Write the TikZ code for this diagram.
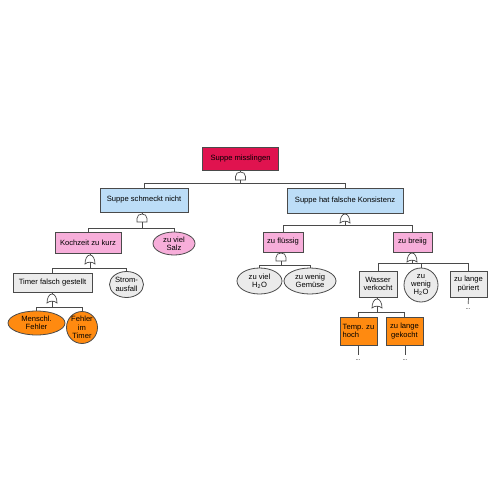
\documentclass[tikz,border=0pt]{standalone}
\usepackage{fontspec}
\setmainfont{Liberation Sans}
\usetikzlibrary{shapes.geometric}
\definecolor{topred}{HTML}{E0134F}
\definecolor{midblue}{HTML}{BCDDF7}
\definecolor{lowpink}{HTML}{F7AEDA}
\definecolor{basegray}{HTML}{EBEBEB}
\definecolor{leaforange}{HTML}{FF8A10}
\definecolor{edge}{HTML}{4A4A4A}

\begin{document}
\begin{tikzpicture}[x=1pt,y=-1pt,
  box/.style={draw=edge,line width=0.8pt,align=center,inner sep=0.5pt,font=\fontsize{7.6}{8.4}\selectfont},
  ev/.style={box,ellipse,inner sep=0pt},
  link/.style={draw=edge,line width=0.7pt},
  dots/.style={font=\fontsize{6}{6}\selectfont,inner sep=0.5pt},
  andgate/.pic={\draw[edge,line width=0.7pt,fill=white] (-5,8) -- (-5,4.5) .. controls (-5,1.5) and (-2.8,0) .. (0,0) .. controls (2.8,0) and (5,1.5) .. (5,4.5) -- (5,8) -- cycle;
    \coordinate (-in) at (0,0); \coordinate (-out) at (0,8);},
  orgate/.pic={\draw[edge,line width=0.7pt,fill=white] (-5,9) .. controls (-5,4) and (-3,0) .. (0,0) .. controls (3,0) and (5,4) .. (5,9) .. controls (2,6.5) and (-2,6.5) .. cycle;
    \coordinate (-in) at (0,0); \coordinate (-out) at (0,7.2);}]
\useasboundingbox[fill=white] (0,0) rectangle (500,500);

% top event
\node[box,fill=topred,minimum width=76pt,minimum height=23pt] (top) at (240.5,158.5) {Suppe misslingen};
% second level
\node[box,fill=midblue,minimum width=88pt,minimum height=24pt] (schmeckt) at (144,200) {Suppe schmeckt nicht};
\node[box,fill=midblue,minimum width=116pt,minimum height=25pt] (konsistenz) at (345,200.5) {Suppe hat falsche Konsistenz};
% left branch
\node[box,fill=lowpink,minimum width=66pt,minimum height=21pt] (kochzeit) at (88,242.5) {Kochzeit zu kurz};
\node[ev,fill=lowpink,minimum width=42pt,minimum height=23pt] (salz) at (174,243.5) {zu viel\\Salz};
\node[box,fill=basegray,minimum width=79pt,minimum height=19pt] (timer) at (52.5,282.5) {Timer falsch gestellt};
\node[ev,fill=basegray,minimum width=34pt,minimum height=26pt] (strom) at (126.5,284.5) {Strom-\\ausfall};
\node[ev,fill=leaforange,minimum width=57pt,minimum height=24pt] (mensch) at (36.5,323) {Menschl.\\Fehler};
\node[ev,fill=leaforange,minimum width=31pt,minimum height=32pt] (imtimer) at (82,327.5) {Fehler\\im\\Timer};
% right branch
\node[box,fill=lowpink,minimum width=40pt,minimum height=20pt] (fluessig) at (283,242) {zu flüssig};
\node[box,fill=lowpink,minimum width=39pt,minimum height=20pt] (breiig) at (412.5,242) {zu breiig};
\node[ev,fill=basegray,minimum width=45pt,minimum height=26pt] (vielwasser) at (259.5,281) {zu viel\\H\textsubscript{2}O};
\node[ev,fill=basegray,minimum width=52pt,minimum height=26pt] (gemuese) at (310,281) {zu wenig\\Gemüse};
\node[box,fill=basegray,minimum width=38pt,minimum height=26pt] (verkocht) at (378,284) {Wasser\\verkocht};
\node[ev,fill=basegray,minimum width=34pt,minimum height=34pt] (wenigwasser) at (421,285) {zu\\wenig\\H\textsubscript{2}O};
\node[box,fill=basegray,minimum width=37pt,minimum height=26pt] (pueriert) at (468.5,284) {zu lange\\püriert};
\node[box,fill=leaforange,minimum width=37pt,minimum height=28pt,align=left] (temp) at (358.5,331) {Temp. zu\\hoch};
\node[box,fill=leaforange,minimum width=37pt,minimum height=28pt] (gekocht) at (404.5,331) {zu lange\\gekocht};
\node[dots] (d1) at (468,309) {...};
\node[dots] (d2) at (358,360) {...};
\node[dots] (d3) at (405,360) {...};

% gates
\pic (g0) at (240.5,172) {andgate};
\pic (g1) at (142,214) {andgate};
\pic (g2) at (345,214) {orgate};
\pic (g3) at (90,255) {orgate};
\pic (g4) at (52,294) {orgate};
\pic (g5) at (281,253) {andgate};
\pic (g6) at (412,253) {orgate};
\pic (g7) at (377,299) {orgate};

% connectors
\draw[link] (top.south) -- (g0-in);
\draw[link] (schmeckt.south -| g1-in) -- (g1-in);
\draw[link] (konsistenz.south) -- (g2-in);
\draw[link] (kochzeit.south -| g3-in) -- (g3-in);
\draw[link] (timer.south -| g4-in) -- (g4-in);
\draw[link] (fluessig.south -| g5-in) -- (g5-in);
\draw[link] (breiig.south -| g6-in) -- (g6-in);
\draw[link] (verkocht.south -| g7-in) -- (g7-in);
\foreach \c in {schmeckt,konsistenz} \draw[link] (g0-out) -- ++(0,3) -| (\c.north);
\foreach \c in {kochzeit,salz} \draw[link] (g1-out) -- ++(0,6) -| (\c.north);
\foreach \c in {fluessig,breiig} \draw[link] (g2-out) -- ++(0,4) -| (\c.north);
\foreach \c in {timer,strom} \draw[link] (g3-out) -- ++(0,6) -| (\c.north);
\foreach \c in {mensch,imtimer} \draw[link] (g4-out) -- ++(0,6) -| (\c.north);
\foreach \c in {vielwasser,gemuese} \draw[link] (g5-out) -- ++(0,4) -| (\c.north);
\foreach \c in {verkocht,wenigwasser,pueriert} \draw[link] (g6-out) -- ++(0,3) -| (\c.north);
\foreach \c in {temp,gekocht} \draw[link] (g7-out) -- ++(0,6) -| (\c.north);
\draw[link,shorten >=4pt] (pueriert.south) -- (d1.north);
\draw[link,shorten >=4pt] (temp.south -| d2) -- (d2.north);
\draw[link,shorten >=4pt] (gekocht.south -| d3) -- (d3.north);
\end{tikzpicture}
\end{document}
